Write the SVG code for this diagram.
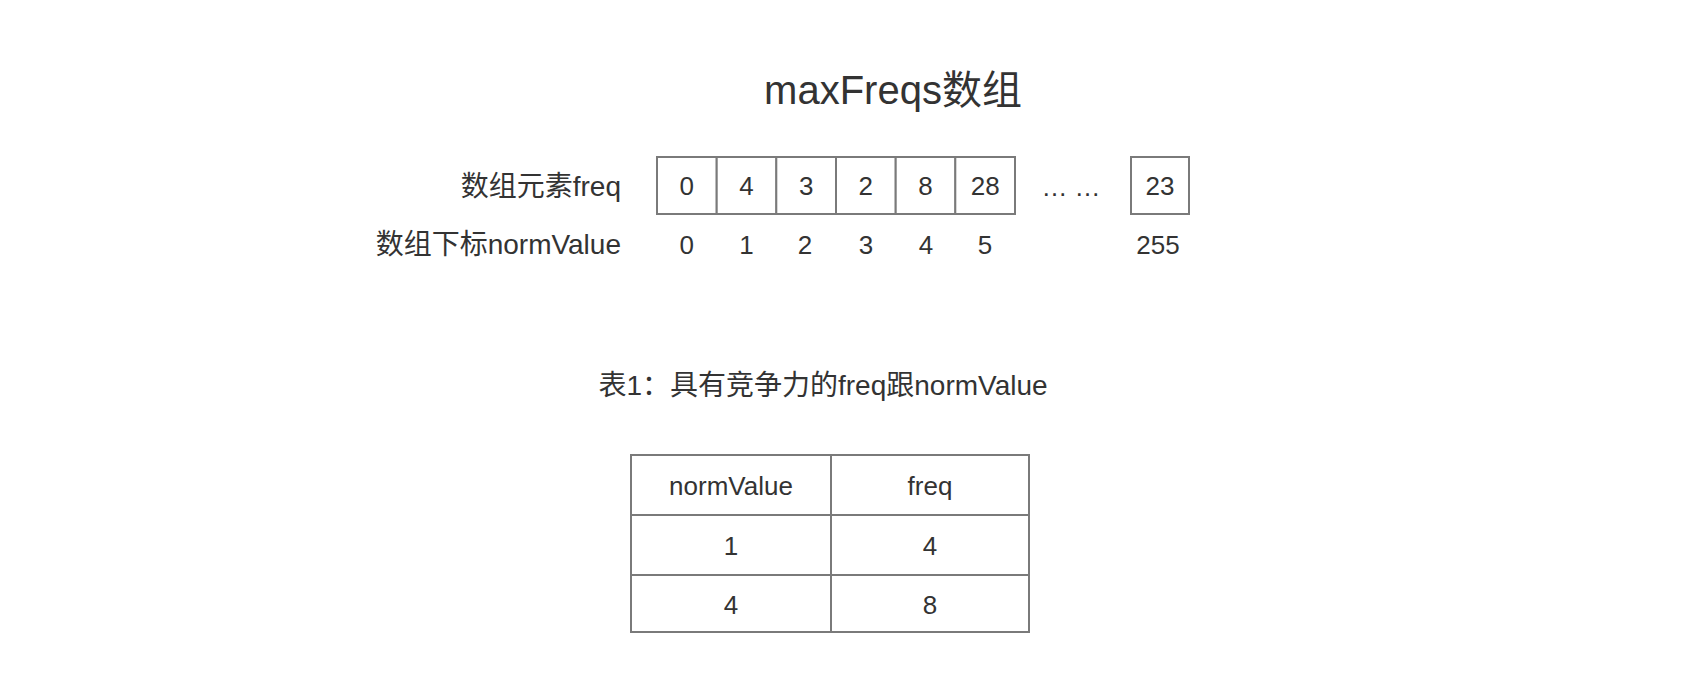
<svg xmlns="http://www.w3.org/2000/svg" width="1700" height="674" viewBox="0 0 1700 674">
  <style>
    text { font-family: "Liberation Sans", "Noto Sans CJK SC", sans-serif; fill: #333333; }
    .t { font-size: 26px; }
    .lg { font-size: 28px; }
    .c { text-anchor: middle; }
    .r { text-anchor: end; }
    .title { font-size: 40px; text-anchor: middle; }
    .cell { fill: #ffffff; stroke: #7a7a7a; stroke-width: 2; }
    .ln { stroke: #7a7a7a; stroke-width: 2; fill: none; }
  </style>
  <rect x="0" y="0" width="1700" height="674" fill="#ffffff"/>

  <g id="title">
    <text class="title" x="893" y="104">maxFreqs数组</text>
  </g>

  <g id="labels">
    <text class="lg r" x="621" y="196">数组元素freq</text>
    <text class="lg r" x="621" y="254">数组下标normValue</text>
  </g>

  <g id="array">
    <rect class="cell" x="657" y="157" width="59.7" height="57"/>
    <rect class="cell" x="716.7" y="157" width="59.7" height="57"/>
    <rect class="cell" x="776.3" y="157" width="59.7" height="57"/>
    <rect class="cell" x="836" y="157" width="59.7" height="57"/>
    <rect class="cell" x="895.7" y="157" width="59.7" height="57"/>
    <rect class="cell" x="955.3" y="157" width="59.7" height="57"/>
    <rect class="cell" x="1131" y="157" width="58" height="57"/>
    <text class="t c" x="686.8" y="195">0</text>
    <text class="t c" x="746.5" y="195">4</text>
    <text class="t c" x="806.2" y="195">3</text>
    <text class="t c" x="865.8" y="195">2</text>
    <text class="t c" x="925.5" y="195">8</text>
    <text class="t c" x="985.2" y="195">28</text>
    <text class="t c" x="1071" y="196">… …</text>
    <text class="t c" x="1160" y="195">23</text>
  </g>

  <g id="indices">
    <text class="t c" x="686.8" y="254">0</text>
    <text class="t c" x="746.5" y="254">1</text>
    <text class="t c" x="805" y="254">2</text>
    <text class="t c" x="866" y="254">3</text>
    <text class="t c" x="926" y="254">4</text>
    <text class="t c" x="985" y="254">5</text>
    <text class="t c" x="1158" y="254">255</text>
  </g>

  <g id="caption">
    <text class="lg c" x="823" y="395">表1：具有竞争力的freq跟normValue</text>
  </g>

  <g id="table">
    <rect class="cell" x="631" y="455" width="398" height="177"/>
    <line class="ln" x1="831" y1="455" x2="831" y2="632"/>
    <line class="ln" x1="631" y1="515" x2="1029" y2="515"/>
    <line class="ln" x1="631" y1="575" x2="1029" y2="575"/>
    <text class="t c" x="731" y="495">normValue</text>
    <text class="t c" x="930" y="495">freq</text>
    <text class="t c" x="731" y="555">1</text>
    <text class="t c" x="930" y="555">4</text>
    <text class="t c" x="731" y="614">4</text>
    <text class="t c" x="930" y="614">8</text>
  </g>

  <g id="connectors"/>
</svg>
